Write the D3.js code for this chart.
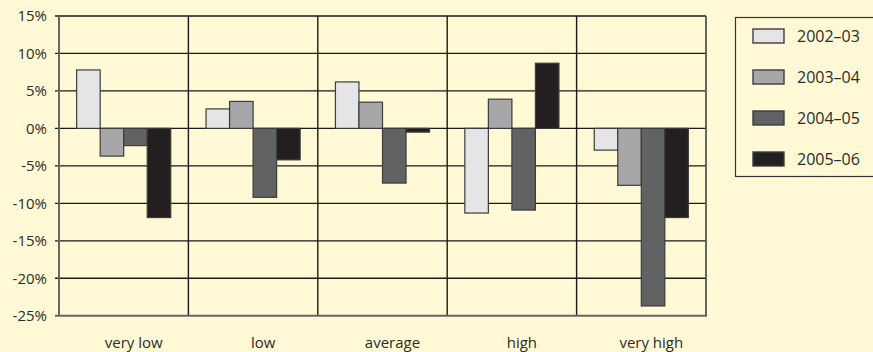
<!DOCTYPE html>
<html>
<head>
<meta charset="utf-8">
<script src="https://cdn.jsdelivr.net/npm/d3@7/dist/d3.min.js"></script>
<style>
  html, body { margin: 0; padding: 0; background: #fffad5; }
  svg { display: block; }
  text { font-family: "Open Sans", "Noto Sans", sans-serif; fill: #2b2b2b; }
</style>
</head>
<body>
<svg id="chart" width="873" height="352"></svg>
<script>
// Categories along the x axis
const categories = ["very low", "low", "average", "high", "very high"];
// Seasons (one bar per season in every category)
const seasons = ["2002–03", "2003–04", "2004–05", "2005–06"];
// Percentage change for each season, in category order
const s2002 = [7.8, 2.6, 6.2, -11.3, -2.9];
const s2003 = [-3.7, 3.6, 3.5, 3.9, -7.6];
const s2004 = [-2.3, -9.2, -7.3, -10.9, -23.7];
const s2005 = [-11.9, -4.2, -0.5, 8.7, -11.9];
const seriesValues = [s2002, s2003, s2004, s2005];
// Y axis ticks
const yTicks = [15, 10, 5, 0, -5, -10, -15, -20, -25];
const seasonColors = ["#e5e5e7", "#a7a7aa", "#616264", "#231f20"];

const svg = d3.select("#chart");
const plot = { left: 59, right: 706, top: 16, bottom: 315.7 };

const x = d3.scaleBand().domain(categories).range([plot.left, plot.right]).padding(0);
const xInner = d3.scaleBand().domain(seasons).range([0, x.bandwidth()])
  .paddingOuter(0.75).paddingInner(0);
const y = d3.scaleLinear().domain([-25, 15]).range([plot.bottom, plot.top]);

const g = svg.append("g");

// horizontal gridlines with short ticks on the left
g.append("g").selectAll("line").data(yTicks.filter(t => t !== -25)).join("line")
  .attr("x1", plot.left - 4).attr("x2", plot.right)
  .attr("y1", d => y(d)).attr("y2", d => y(d))
  .attr("stroke", "#1a1a1a").attr("stroke-width", 1.3);

// vertical category dividers
g.append("g").selectAll("line").data(categories.slice(1)).join("line")
  .attr("x1", d => x(d)).attr("x2", d => x(d))
  .attr("y1", plot.top).attr("y2", plot.bottom)
  .attr("stroke", "#1a1a1a").attr("stroke-width", 1.4);

// bars
const bars = [];
categories.forEach((c, ci) => {
  seasons.forEach((s, si) => {
    bars.push({ c, s, si, v: seriesValues[si][ci] });
  });
});
g.append("g").selectAll("rect").data(bars).join("rect")
  .attr("x", d => x(d.c) + xInner(d.s))
  .attr("width", xInner.bandwidth())
  .attr("y", d => y(Math.max(0, d.v)))
  .attr("height", d => Math.abs(y(d.v) - y(0)))
  .attr("fill", d => seasonColors[d.si])
  .attr("stroke", "#3c3c3c").attr("stroke-width", 1.2);

// frame: left axis, bottom axis, right edge
g.append("line").attr("x1", plot.left).attr("x2", plot.left)
  .attr("y1", plot.top).attr("y2", plot.bottom)
  .attr("stroke", "#666").attr("stroke-width", 2);
g.append("line").attr("x1", plot.left - 4).attr("x2", plot.right + 1)
  .attr("y1", plot.bottom).attr("y2", plot.bottom)
  .attr("stroke", "#666").attr("stroke-width", 2);
g.append("line").attr("x1", plot.right).attr("x2", plot.right)
  .attr("y1", plot.top).attr("y2", plot.bottom)
  .attr("stroke", "#555").attr("stroke-width", 1.8);

// y tick labels
const yAxis = d3.axisLeft(y).tickValues(yTicks).tickFormat(d => d + "%").tickSize(0).tickPadding(12);
const ya = svg.append("g").attr("transform", `translate(${plot.left},0)`).call(yAxis);
ya.select(".domain").remove();
ya.selectAll("text").style("font-size", "15px").attr("fill", "#2b2b2b")
  .style("font-family", '"Open Sans", "Noto Sans", sans-serif');

// x category labels
svg.append("g").selectAll("text").data(categories).join("text")
  .attr("x", d => x(d) + x.bandwidth() / 2 + 10)
  .attr("y", 348)
  .attr("text-anchor", "middle")
  .style("font-size", "15px")
  .text(d => d);

// legend
const lg = svg.append("g");
lg.append("rect").attr("x", 735.5).attr("y", 17.5).attr("width", 140).attr("height", 159)
  .attr("fill", "none").attr("stroke", "#333").attr("stroke-width", 1.2);
const rowY = d3.scalePoint().domain(seasons).range([36, 159]);
const items = lg.selectAll("g.item").data(seasons).join("g").attr("class", "item")
  .attr("transform", d => `translate(0,${rowY(d)})`);
items.append("rect").attr("x", 753).attr("y", -7).attr("width", 31).attr("height", 14)
  .attr("fill", (d, i) => seasonColors[i]).attr("stroke", "#3c3c3c").attr("stroke-width", 1.4);
items.append("text").attr("x", 797).attr("y", 5.8).style("font-size", "16px").text(d => d);
</script>
</body>
</html>
